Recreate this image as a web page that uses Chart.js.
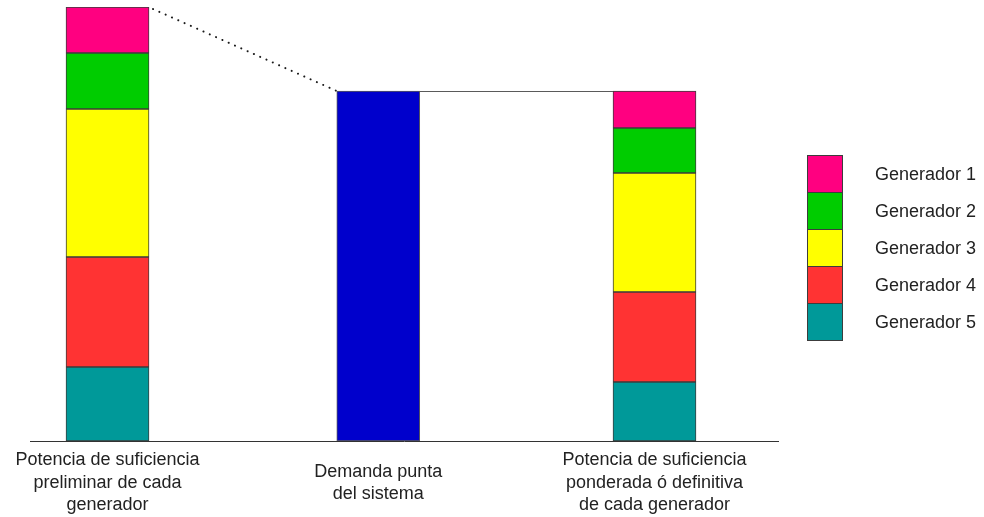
<!DOCTYPE html>
<html>
<head>
<meta charset="utf-8">
<script src="https://cdn.jsdelivr.net/npm/chart.js@4.4.1/dist/chart.umd.min.js"></script>
<style>
  html, body { margin: 0; padding: 0; background: #ffffff; }
  #wrap { width: 984px; height: 517px; }
</style>
</head>
<body>
<div id="wrap"><canvas id="suficiencia"></canvas></div>
<script>
// --- Data ---
const categories = [
    ['Potencia de suficiencia', 'preliminar de cada', 'generador'],
    ['Demanda punta', 'del sistema'],
    ['Potencia de suficiencia', 'ponderada ó definitiva', 'de cada generador']
];
const categoryPositions = [0, 0.99, 2];
const generatorNames = ['Generador 1', 'Generador 2', 'Generador 3', 'Generador 4', 'Generador 5'];
const generatorColors = ['#ff0080', '#00cc00', '#ffff00', '#ff3333', '#009999'];
// values per generator (1..5)
const preliminaryValues = [46, 56, 148, 110, 74];
const definitiveValues = [37, 45, 119, 90, 59];
const peakDemand = 350;
const demandColor = '#0000cc';

const FONT = "'Liberation Sans', Arial, sans-serif";
const BORDER = '#3c3c3c';
const BAR_WIDTH = 83;

// Generator 5 sits at the bottom of each stack, so build the datasets in reverse
const generatorDatasets = generatorNames.map((name, i) => ({
    label: name,
    data: [
        { x: categoryPositions[0], y: preliminaryValues[i] },
        { x: categoryPositions[2], y: definitiveValues[i] }
    ],
    backgroundColor: generatorColors[i],
    borderColor: BORDER,
    borderWidth: 1,
    borderSkipped: false,
    barThickness: BAR_WIDTH
})).reverse();

const demandDataset = {
    label: 'Demanda',
    data: [{ x: categoryPositions[1], y: peakDemand }],
    backgroundColor: demandColor,
    borderColor: '#5a5a5a',
    borderWidth: 1,
    borderSkipped: false,
    barThickness: BAR_WIDTH
};

/**
 * Dotted line from the preliminary stack down to the demand bar,
 * and a flat line from the demand bar over to the definitive stack.
 */
const connectorPlugin = {
    id: 'connectors',
    afterDatasetsDraw(chart) {
        const { ctx } = chart;
        const firstTop = chart.getDatasetMeta(generatorDatasets.length - 1).data[0];
        const demandBar = chart.getDatasetMeta(generatorDatasets.length).data[0];
        const lastTop = chart.getDatasetMeta(generatorDatasets.length - 1).data[1];
        const half = BAR_WIDTH / 2;

        ctx.save();
        ctx.strokeStyle = '#1a1a1a';
        ctx.lineWidth = 2;
        ctx.setLineDash([0.1, 6.8]);
        ctx.lineCap = 'round';
        ctx.beginPath();
        ctx.moveTo(firstTop.x + half + 4, firstTop.y + 2);
        ctx.lineTo(demandBar.x - half, demandBar.y);
        ctx.stroke();

        ctx.setLineDash([]);
        ctx.lineCap = 'butt';
        ctx.lineWidth = 1;
        ctx.strokeStyle = '#5a5a5a';
        ctx.beginPath();
        ctx.moveTo(demandBar.x + half, demandBar.y + 0.5);
        ctx.lineTo(lastTop.x - half, lastTop.y + 0.5);
        ctx.stroke();
        ctx.restore();
    }
};

/**
 * Multi-line category labels, each block centred vertically under the axis.
 */
const categoryLabelPlugin = {
    id: 'categoryLabels',
    afterDraw(chart) {
        const { ctx } = chart;
        const xScale = chart.scales.x;
        const lineHeight = 22.5;
        const middle = chart.chartArea.bottom + 42;
        ctx.save();
        ctx.fillStyle = '#222';
        ctx.font = `18px ${FONT}`;
        ctx.textAlign = 'center';
        ctx.textBaseline = 'middle';
        categories.forEach((lines, i) => {
            const x = xScale.getPixelForValue(categoryPositions[i]);
            const first = middle - (lines.length - 1) * lineHeight / 2;
            lines.forEach((line, j) => ctx.fillText(line, x, first + j * lineHeight));
        });
        ctx.restore();
    }
};

/**
 * Legend drawn as a single column of touching colour boxes.
 */
const boxLegendPlugin = {
    id: 'boxLegend',
    afterDraw(chart) {
        const { ctx } = chart;
        const left = 807, top = 155, w = 36, h = 37;
        ctx.save();
        generatorNames.forEach((name, i) => {
            const y = top + i * h;
            ctx.fillStyle = generatorColors[i];
            ctx.fillRect(left, y, w, h);
            ctx.strokeStyle = BORDER;
            ctx.lineWidth = 1;
            ctx.strokeRect(left + 0.5, y + 0.5, w - 1, h);
            ctx.fillStyle = '#222';
            ctx.font = `18px ${FONT}`;
            ctx.textBaseline = 'middle';
            ctx.fillText(name, 875, y + h / 2 + 2);
        });
        ctx.restore();
    }
};

new Chart(document.getElementById('suficiencia'), {
    type: 'bar',
    data: { datasets: [...generatorDatasets, demandDataset] },
    options: {
        responsive: true,
        maintainAspectRatio: false,
        animation: false,
        layout: { padding: { top: 7, left: 30, right: 206, bottom: 76 } },
        scales: {
            x: {
                type: 'linear',
                stacked: true,
                offset: false,
                min: -0.2834,
                max: 2.4516,
                grid: { display: false, drawTicks: false },
                border: { display: true, color: '#333', width: 1 },
                ticks: { display: false }
            },
            y: {
                stacked: true,
                display: false,
                min: 0,
                max: 434
            }
        },
        plugins: {
            legend: { display: false },
            tooltip: { enabled: false }
        }
    },
    plugins: [connectorPlugin, categoryLabelPlugin, boxLegendPlugin]
});
</script>
</body>
</html>
